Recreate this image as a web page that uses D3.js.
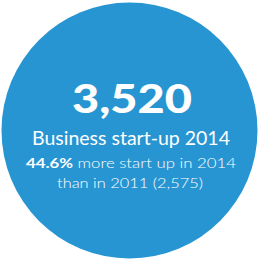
<!DOCTYPE html>
<html>
<head>
<meta charset="utf-8">
<script src="https://cdn.jsdelivr.net/npm/d3@7"></script>
<style>
  body { margin: 0; background: #fff; }
  svg text { font-family: Lato, "Open Sans", sans-serif; fill: #fff; }
</style>
</head>
<body>
<div id="chart"></div>
<script>
// chart data
var startups = [3520];
var years = [2011, 2014];
var baseStartups = [2575];
var growthPct = [44.6];

var width = 259, height = 260;

var svg = d3.select("#chart")
  .append("svg")
  .attr("width", width)
  .attr("height", height);

// radius scale, sized to the 2014 value
var r = d3.scaleSqrt().domain([0, startups[0]]).range([0, 128]);

svg.append("circle")
  .attr("cx", 129.5)
  .attr("cy", 130.5)
  .attr("r", r(startups[0]))
  .style("fill", "#2895d3");

var fmt = d3.format(",");

// big number
svg.append("text")
  .attr("x", 132).attr("y", 113)
  .attr("text-anchor", "middle")
  .attr("textLength", 120).attr("lengthAdjust", "spacingAndGlyphs")
  .style("font-size", "39px").style("font-weight", 900)
  .text(fmt(startups[0]));

svg.append("text")
  .attr("x", 131).attr("y", 145)
  .attr("text-anchor", "middle")
  .attr("textLength", 198).attr("lengthAdjust", "spacingAndGlyphs")
  .style("font-size", "18.5px")
  .text("Business start-up " + years[1]);

var line1 = svg.append("text")
  .attr("x", 131).attr("y", 168)
  .attr("text-anchor", "middle")
  .attr("textLength", 210).attr("lengthAdjust", "spacingAndGlyphs")
  .style("font-size", "14px");
line1.append("tspan").style("font-weight", 700).text(growthPct[0] + "%");
line1.append("tspan").style("font-weight", 300).text(" more start up in " + years[1]);

svg.append("text")
  .attr("x", 130).attr("y", 188)
  .attr("text-anchor", "middle")
  .attr("textLength", 146).attr("lengthAdjust", "spacingAndGlyphs")
  .style("font-size", "14px").style("font-weight", 300)
  .text("than in " + years[0] + " (" + fmt(baseStartups[0]) + ")");
</script>
</body>
</html>
